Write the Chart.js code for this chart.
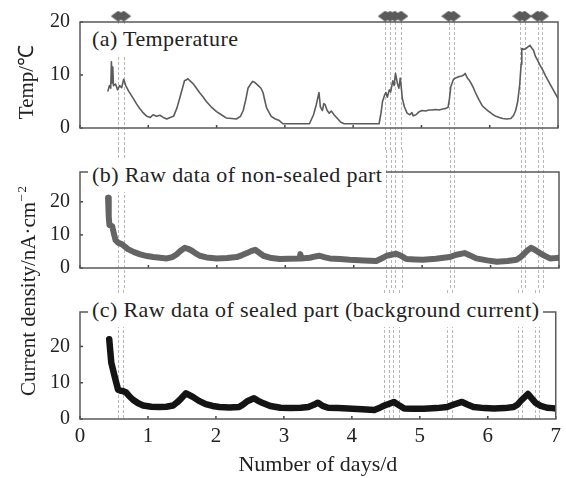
<!DOCTYPE html>
<html><head><meta charset="utf-8">
<script src="https://cdn.jsdelivr.net/npm/chart.js@4/dist/chart.umd.min.js"></script>
<style>
body{margin:0;background:#fff;}
#wrap{position:relative;width:566px;height:478px;overflow:hidden;font-family:"Liberation Serif";color:#222;}
canvas{position:absolute;left:0;}
.lbl{position:absolute;left:88px;background:#fff;font-size:22px;letter-spacing:0.4px;white-space:nowrap;line-height:1;padding:4px 4px 6px 4px;transform:translateY(-50%);}
.yt{position:absolute;font-size:21px;white-space:nowrap;line-height:1;transform:translate(-50%,-50%) rotate(-90deg);}
.yt sup{font-size:13px;vertical-align:9px;letter-spacing:2px;}
</style></head>
<body>
<div id="wrap">
<canvas id="ca" width="566" height="150" style="top:0px"></canvas>
<canvas id="cb" width="566" height="140" style="top:150px"></canvas>
<canvas id="cc" width="566" height="188" style="top:290px"></canvas>
<div class="lbl" id="la" style="top:40px">(a) Temperature</div>
<div class="lbl" id="lb" style="top:176px">(b) Raw data of non-sealed part</div>
<div class="lbl" id="lc" style="top:311px">(c) Raw data of sealed part (background current)</div>
<div class="yt" style="left:26px;top:82px">Temp/℃</div>
<div class="yt" style="left:27px;top:290px">Current density/nA·cm<sup>−2</sup></div>
</div>
<script>
// ---- data ----
const dayTicks = [0,1,2,3,4,5,6,7];
const tempTicks = [0,10,20];
const currentTicks = [0,10,20];
const eventDays = [0.56,0.64,4.47,4.54,4.61,4.70,5.40,5.47,6.44,6.51,6.70,6.76];
const markerLevel = 21.1;

const tempDays = [0.41,0.43,0.45,0.46,0.47,0.48,0.49,0.52,0.55,0.58,0.61,0.64,0.67,0.71,0.78,0.83,0.88,0.93,0.98,1.03,1.07,1.12,1.17,1.22,1.27,1.32,1.37,1.42,1.46,1.50,1.53,1.56,1.58,1.62,1.66,1.70,1.75,1.80,1.85,1.92,2.00,2.07,2.14,2.22,2.29,2.35,2.39,2.43,2.46,2.50,2.53,2.56,2.61,2.65,2.68,2.71,2.73,2.77,2.80,2.86,2.92,2.97,3.36,3.42,3.46,3.50,3.52,3.55,3.57,3.59,3.62,3.65,3.68,3.72,3.77,3.82,3.87,4.38,4.41,4.43,4.46,4.48,4.50,4.53,4.55,4.58,4.60,4.62,4.64,4.65,4.67,4.69,4.71,4.72,4.75,4.79,4.83,4.86,4.88,4.92,4.96,5.01,5.06,5.11,5.16,5.21,5.26,5.31,5.36,5.39,5.41,5.43,5.45,5.47,5.51,5.55,5.59,5.62,5.64,5.67,5.70,5.72,5.76,5.79,5.84,5.89,5.94,5.99,6.04,6.09,6.14,6.19,6.25,6.31,6.35,6.38,6.41,6.44,6.46,6.47,6.50,6.53,6.56,6.59,6.62,6.64,6.67,6.70,6.73,6.77,6.82,6.87,6.93,7.00];
const tempValues = [7.0,8.0,7.5,12.5,8.5,11.5,8.0,8.3,7.2,8.0,7.6,9.2,8.0,7.0,5.6,4.5,3.6,2.8,2.2,2.0,2.5,2.2,2.4,2.0,1.7,2.0,2.2,3.8,5.6,7.5,8.9,9.1,9.3,8.8,8.3,7.6,6.7,5.9,5.0,4.0,3.1,2.5,1.9,1.8,1.7,2.2,3.3,5.5,7.5,8.3,8.8,8.6,8.0,7.5,6.7,5.0,3.9,2.9,2.2,1.7,1.4,0.8,0.8,2.5,4.4,6.7,4.0,3.3,4.6,4.4,3.3,2.8,3.2,2.5,1.8,1.1,0.8,0.8,3.0,5.0,6.2,6.7,5.8,7.2,6.8,8.9,8.0,10.3,9.0,8.3,7.5,9.4,7.0,5.6,4.0,2.8,2.5,2.9,2.3,2.5,3.0,3.3,3.2,3.4,3.4,3.5,3.4,3.6,3.7,3.9,5.5,7.8,8.5,9.2,9.5,9.7,9.8,10.0,10.3,9.5,9.0,8.6,7.6,6.7,5.4,4.2,3.6,3.1,2.6,2.2,2.0,1.8,1.7,1.8,2.4,3.3,5.0,8.3,12.0,15.0,14.8,15.0,15.3,15.6,15.0,14.7,13.5,12.8,12.0,11.1,9.8,8.6,7.2,5.6];

const nonSealedDays = [0.41,0.42,0.43,0.47,0.50,0.52,0.56,0.61,0.66,0.70,0.79,0.88,0.98,1.07,1.17,1.27,1.35,1.41,1.47,1.53,1.58,1.63,1.69,1.75,1.85,2.00,2.15,2.29,2.37,2.44,2.50,2.56,2.62,2.68,2.80,2.92,3.05,3.21,3.22,3.23,3.36,3.44,3.50,3.58,3.65,3.80,3.94,4.15,4.33,4.42,4.48,4.55,4.62,4.70,4.77,4.90,5.01,5.20,5.40,5.50,5.62,5.70,5.79,5.95,6.09,6.25,6.38,6.44,6.48,6.54,6.59,6.64,6.72,6.80,6.87,6.95,7.00];
const nonSealedValues = [21.2,15.5,13.0,12.6,10.0,8.4,7.6,7.2,6.4,5.7,4.8,4.1,3.6,3.3,3.1,2.9,3.3,4.1,5.2,6.1,5.8,5.3,4.4,3.7,3.2,2.9,3.0,3.3,3.9,4.5,5.1,5.5,4.6,3.7,3.0,2.7,2.8,2.9,4.2,2.9,3.1,3.5,3.7,3.2,2.9,2.7,2.5,2.3,2.1,3.0,3.7,4.0,4.3,3.6,2.7,2.6,2.5,2.8,3.3,4.0,4.5,3.8,2.9,2.3,1.9,2.1,2.5,3.3,4.1,5.3,6.1,5.6,4.5,3.6,2.9,3.0,3.1];

const sealedDays = [0.43,0.46,0.51,0.56,0.60,0.63,0.68,0.73,0.78,0.85,0.93,1.05,1.17,1.27,1.37,1.43,1.49,1.56,1.61,1.66,1.75,1.85,1.95,2.05,2.20,2.34,2.40,2.46,2.56,2.62,2.68,2.80,2.95,3.10,3.25,3.36,3.44,3.50,3.57,3.65,3.80,3.94,4.15,4.33,4.42,4.48,4.55,4.62,4.70,4.77,4.90,5.06,5.25,5.40,5.50,5.62,5.70,5.79,5.95,6.09,6.25,6.38,6.44,6.48,6.54,6.59,6.64,6.70,6.78,6.87,6.95,7.00];
const sealedValues = [22.0,15.6,11.7,8.1,7.8,7.7,7.3,6.2,5.3,4.4,3.7,3.4,3.3,3.4,3.7,4.6,5.7,7.1,6.6,6.1,5.0,4.1,3.6,3.3,3.2,3.3,4.0,4.9,5.7,5.0,4.5,3.6,3.1,3.0,3.1,3.3,3.9,4.5,3.6,3.1,3.0,2.9,2.7,2.5,3.2,3.7,4.2,4.7,3.7,2.9,2.8,2.8,3.0,3.3,4.0,4.7,4.0,3.3,3.0,2.9,3.0,3.3,4.0,4.9,6.0,6.9,5.8,4.5,3.6,3.1,3.0,2.9];

// ---- drawing ----
const FONT = '"Liberation Serif"';
const pts = (xs, ys) => xs.map((d, i) => ({x: d, y: ys[i]}));

const diamond = document.createElement('canvas');
diamond.width = 15; diamond.height = 11;
(function(){const c = diamond.getContext('2d'); c.fillStyle = '#5a5a5a'; c.beginPath();
 c.moveTo(0,5.5); c.lineTo(7.5,0); c.lineTo(15,5.5); c.lineTo(7.5,11); c.closePath(); c.fill();})();

const frame = {
  id: 'frame',
  beforeDatasetsDraw(chart, args, o) {
    const {ctx, chartArea: a} = chart; const x = chart.scales.x; const y = chart.scales.y;
    ctx.save();
    ctx.strokeStyle = '#b8b8b8'; ctx.lineWidth = 1; ctx.setLineDash([3, 2]);
    const y0 = o.dashTop === 'canvas' ? 0 : a.top;
    const y1 = o.dashBottom === 'canvas' ? chart.height : a.bottom;
    eventDays.forEach(d => { const px = Math.round(x.getPixelForValue(d)) + 0.5;
      ctx.beginPath(); ctx.moveTo(px, y0); ctx.lineTo(px, y1); ctx.stroke(); });
    ctx.setLineDash([]); ctx.strokeStyle = '#444'; ctx.lineWidth = 1.5;
    dayTicks.forEach(d => { const px = x.getPixelForValue(d);
      ctx.beginPath(); ctx.moveTo(px, a.bottom); ctx.lineTo(px, a.bottom - 3); ctx.stroke(); });
    y.ticks.forEach(t => { const py = y.getPixelForValue(t.value);
      ctx.beginPath(); ctx.moveTo(a.left, py); ctx.lineTo(a.left + 3, py); ctx.stroke(); });
    ctx.restore();
  },
  afterDatasetsDraw(chart) {
    const {ctx, chartArea: a} = chart;
    ctx.save(); ctx.strokeStyle = '#5a5a5a'; ctx.lineWidth = 1.5;
    ctx.strokeRect(a.left, a.top, a.right - a.left, a.bottom - a.top);
    ctx.restore();
  }
};

function yScale(max, ticks) {
  return {
    min: 0, max: max,
    afterFit(s) { s.width = 80; },
    afterBuildTicks(s) { s.ticks = ticks.map(v => ({value: v})); },
    grid: {display: false, drawTicks: false},
    border: {display: false},
    ticks: {padding: 10, color: '#222', font: {family: FONT, size: 20}}
  };
}
function xScale(show) {
  return {
    type: 'linear', min: 0, max: 7, display: show,
    afterFit(s) { if (show) s.height = 59; },
    afterBuildTicks(s) { s.ticks = dayTicks.map(v => ({value: v})); },
    grid: {display: false, drawTicks: false},
    border: {display: false},
    ticks: {padding: 5, color: '#222', font: {family: FONT, size: 21}, maxRotation: 0},
    title: {display: show, text: 'Number of days/d', color: '#222', font: {family: FONT, size: 22}, padding: {top: 7, bottom: 0}}
  };
}
function make(id, datasets, yMax, ticks, pad, dash, showX) {
  return new Chart(document.getElementById(id), {
    type: 'line',
    data: {datasets},
    options: {
      responsive: false, animation: false, devicePixelRatio: 1,
      layout: {padding: {left: 0, right: 7, top: pad[0], bottom: pad[1]}},
      scales: {x: xScale(showX), y: yScale(yMax, ticks)},
      plugins: {legend: {display: false}, tooltip: {enabled: false}, frame: dash},
      elements: {point: {radius: 0}, line: {tension: 0, borderJoinStyle: 'round', borderCapStyle: 'round'}}
    },
    plugins: [frame]
  });
}

function build() {
  make('ca', [
    {data: pts(tempDays, tempValues), borderColor: '#5c5c5c', borderWidth: 1.6, pointRadius: 0},
    {data: eventDays.map(d => ({x: d, y: markerLevel})), showLine: false, pointStyle: diamond, pointRadius: 7, clip: false}
  ], 20, tempTicks, [19, 10], {dashTop: 'area', dashBottom: 'canvas'}, false);

  make('cb', [
    {data: pts(nonSealedDays, nonSealedValues), borderColor: '#646464', borderWidth: 6, pointRadius: 0}
  ], 29, currentTicks, [7, 9], {dashTop: 'canvas', dashBottom: 'canvas'}, false);

  make('cc', [
    {data: pts(sealedDays, sealedValues), borderColor: '#141414', borderWidth: 6.5, pointRadius: 0}
  ], 29.5, currentTicks, [5, 0], {dashTop: 'canvas', dashBottom: 'area'}, true);
}
if (document.fonts && document.fonts.load) {
  Promise.all([document.fonts.load('20px "Liberation Serif"')]).then(build, build);
} else { build(); }
</script>
</body></html>
